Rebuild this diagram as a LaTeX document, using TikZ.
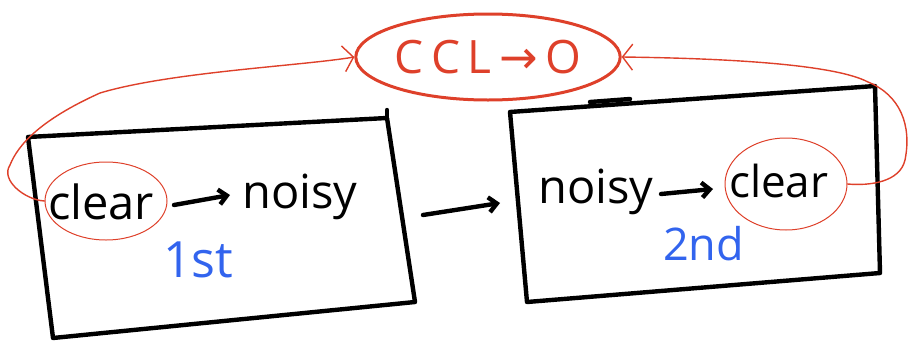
\documentclass[tikz,border=0pt]{standalone}
\usepackage{fontspec}
\setmainfont{Open Sans}
\newfontfamily\symfont{DejaVu Sans}
\usetikzlibrary{arrows.meta,shapes.geometric}
\definecolor{penred}{RGB}{222,64,42}
\definecolor{penblue}{RGB}{50,100,238}
\begin{document}
\begin{tikzpicture}[x=1pt,y=-1pt,
  frame/.style={line width=4.4pt,line cap=round,line join=round},
  word/.style={inner sep=0pt,anchor=base west,font=\fontsize{47}{47}\selectfont},
  ordinal/.style={inner sep=0pt,anchor=base west,text=penblue,font=\fontsize{50}{50}\selectfont},
  ring/.style={draw=penred,ellipse,line width=1pt,inner sep=0pt},
  inkarrow/.style={line width=4.4pt,line cap=round,-{Straight Barb[length=8pt,width=15pt,line width=4.4pt]}},
  feedback/.style={draw=penred,line width=1.4pt,line cap=round,-{Straight Barb[length=10pt,width=26pt,line width=1.4pt]}}]
\useasboundingbox (0,0) rectangle (910,343);
% CCL -> O bubble
\node[draw=penred,line width=3pt,ellipse,minimum width=228pt,minimum height=86pt,inner sep=0pt,
      text=penred,font=\fontsize{46}{46}\selectfont] (ccl) at (488,57)
      {C\,C\,L\,{\symfont →}\,O};
% boxes
\coordinate (b1tl) at (28,137); \coordinate (b1tr) at (387,118);
\coordinate (b1br) at (415,302); \coordinate (b1bl) at (53,338);
\coordinate (b2tl) at (510,112); \coordinate (b2tr) at (875,86);
\coordinate (b2br) at (880,273); \coordinate (b2bl) at (527,302);
\draw[frame] (b1tl) -- (b1tr) -- (b1br) -- (b1bl) -- cycle;
\draw[frame] (b1tr) -- ++(0,-8);
\draw[frame] (b2tl) -- (b2tr) -- (b2br) -- (b2bl) -- cycle;
\coordinate (s1) at (590,102); \coordinate (s2) at (630,99);
\draw[frame] (s1) -- (s2);
% texts, first box
\node[word] (c1) at (48,219) {clear};
\node[word] (n1) at (242,208) {noisy};
\node[ordinal] (one) at (163,277) {1st};
% texts, second box
\node[word] (n2) at (538,203) {noisy};
\node[word,font=\fontsize{44}{44}\selectfont] (c2) at (729,197) {clear};
\node[ordinal,font=\fontsize{45}{45}\selectfont] (two) at (663,260) {2nd};
% rings
\node[ring,minimum width=122pt,minimum height=78pt] (e1) at (106,201) {};
\node[ring,minimum width=122pt,minimum height=92pt] (e2) at (786,184) {};
% black arrows
\coordinate (a1s) at (174,205); \coordinate (a1e) at (230,195);
\draw[inkarrow] (a1s) -- (a1e);
\coordinate (a2s) at (661,194); \coordinate (a2e) at (713,189);
\draw[inkarrow] (a2s) -- (a2e);
\coordinate (m1) at (423,215); \coordinate (m2) at (500,203);
\draw[inkarrow] (m1) -- (m2);
% red feedback connectors
\draw[feedback] (e1.west) .. controls (25,200) and (0,180) .. (10,165)
   .. controls (18,145) and (40,120) .. (100,93)
   .. controls (170,72) and (300,66) .. (ccl.west);
\draw[feedback] (e2.east) .. controls (870,186) and (900,182) .. (905,160)
   .. controls (912,125) and (900,95) .. (868,82)
   .. controls (830,62) and (700,58) .. (ccl.east);
\end{tikzpicture}
\end{document}
